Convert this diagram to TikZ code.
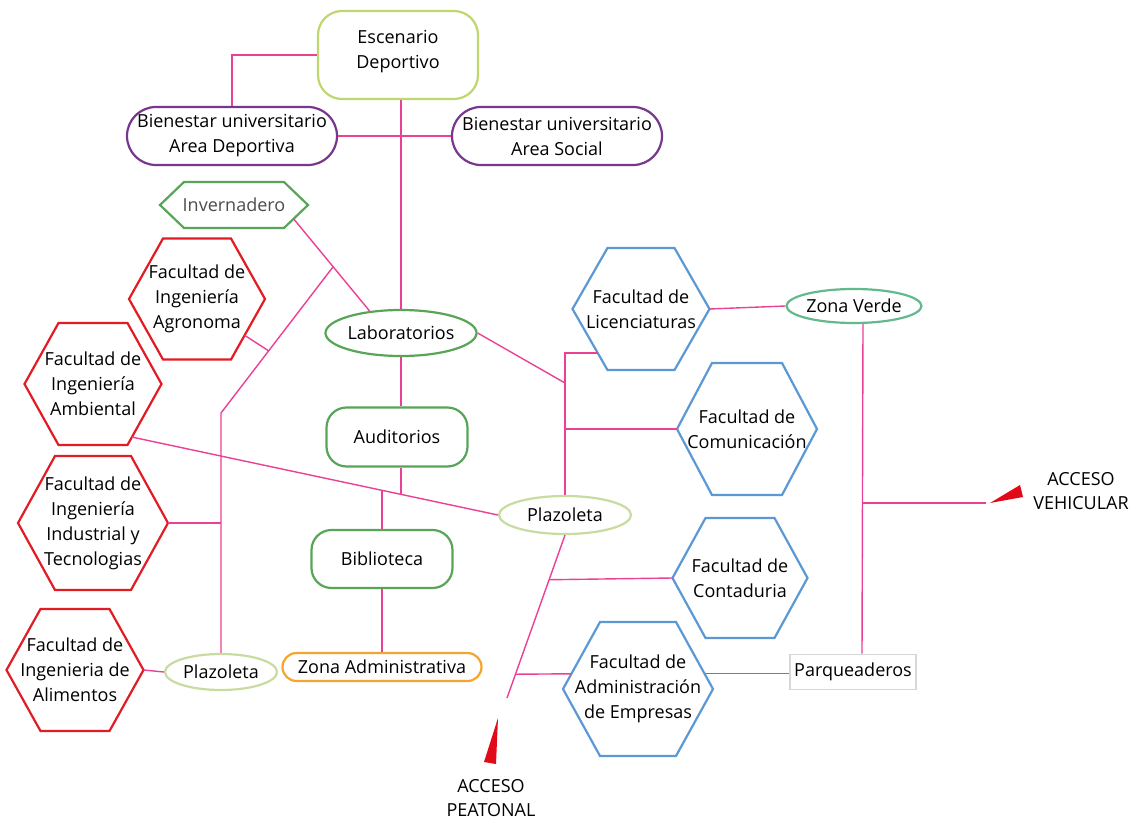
\documentclass[tikz,border=0pt]{standalone}
\usepackage{fontspec}
\setmainfont{Open Sans}
\usetikzlibrary{shapes.geometric,calc}
\definecolor{escC}{RGB}{190,215,110}
\definecolor{purp}{RGB}{118,55,140}
\definecolor{grn}{RGB}{88,165,88}
\definecolor{redh}{RGB}{226,28,36}
\definecolor{blu}{RGB}{92,152,212}
\definecolor{plz}{RGB}{200,220,160}
\definecolor{zvc}{RGB}{100,185,140}
\definecolor{org}{RGB}{245,165,45}
\definecolor{grayb}{RGB}{215,215,215}
\definecolor{lnk}{RGB}{236,64,148}
\definecolor{arr}{RGB}{226,10,25}
% name, x, y, w, h, slant, colour, text
\newcommand{\hexa}[8]{%
  \node[hexbox, minimum width=#4pt, minimum height=#5pt] (#1) at (#2,#3) {#8};
  \coordinate (#1-tl) at ([xshift=#6pt]#1.north west);
  \coordinate (#1-tr) at ([xshift=-#6pt]#1.north east);
  \coordinate (#1-bl) at ([xshift=#6pt]#1.south west);
  \coordinate (#1-br) at ([xshift=-#6pt]#1.south east);
  \draw[hexline, draw=#7] (#1.west) -- (#1-tl) -- (#1-tr) -- (#1.east) -- (#1-br) -- (#1-bl) -- cycle;
}
\begin{document}
\begin{tikzpicture}[x=1pt,y=-1pt,
  every node/.style={font=\fontsize{18}{25}\selectfont, align=center, text=black},
  con/.style={draw=lnk, line width=1.4pt},
  hexbox/.style={inner sep=0pt, outer sep=0pt},
  hexline/.style={line width=2.2pt, line join=miter},
  rbox/.style={draw, line width=2.2pt, inner sep=0pt},
  ebox/.style={ellipse, draw, line width=2.2pt, inner sep=0pt},
]
\useasboundingbox[fill=white] (0,0) rectangle (1140,821);

% ---- top boxes
\node[rbox, draw=escC, rounded corners=24pt, minimum width=160pt, minimum height=88pt, text depth=11pt] (esc) at (398,55) {Escenario\\Deportivo};
\node[rbox, draw=purp, rounded corners=29pt, minimum width=210pt, minimum height=58pt] (bd) at (232,136) {Bienestar universitario\\Area Deportiva};
\node[rbox, draw=purp, rounded corners=29pt, minimum width=210pt, minimum height=58pt] (bs) at (557,136) {Bienestar universitario\\Area Social};

% ---- hexagons
\hexa{inv}{234}{205}{148}{46}{24}{grn}{\textcolor{black!70}{Invernadero}}
\hexa{ag}{197}{299}{136}{121}{34}{redh}{Facultad de\\Ingeniería\\Agronoma}
\hexa{am}{93}{384}{137}{122}{34}{redh}{Facultad de\\Ingeniería\\Ambiental}
\hexa{ind}{93}{523}{150}{134}{37}{redh}{Facultad de\\Ingeniería\\Industrial y\\Tecnologias}
\hexa{ali}{75}{670}{137}{122}{34}{redh}{Facultad de\\Ingenieria de\\Alimentos}
\hexa{lic}{641}{309}{137}{122}{35}{blu}{Facultad de\\Licenciaturas}
\hexa{com}{747}{429}{140}{132}{35}{blu}{Facultad de\\Comunicación}
\hexa{con}{740}{578}{135}{120}{33}{blu}{Facultad de\\Contaduria}
\hexa{adm}{638}{689}{150}{134}{37}{blu}{Facultad de\\Administración\\de Empresas}

% ---- ellipses and boxes
\node[ebox, draw=plz, minimum width=112pt, minimum height=36pt] (plazL) at (221,672) {Plazoleta};
\node[ebox, draw=grn, minimum width=144pt, minimum height=46pt] (lab) at (401,333) {Laboratorios};
\node[ebox, draw=plz, minimum width=132pt, minimum height=38pt] (plazC) at (565,515) {Plazoleta};
\node[ebox, draw=zvc, minimum width=134pt, minimum height=34pt] (zv) at (854,306) {Zona Verde};
\node[rbox, draw=grn, rounded corners=20pt, minimum width=141pt, minimum height=59pt] (aud) at (397,437) {Auditorios};
\node[rbox, draw=grn, rounded corners=20pt, minimum width=141pt, minimum height=58pt] (bib) at (382,559) {Biblioteca};
\node[rbox, draw=org, rounded corners=14pt, minimum width=199pt, minimum height=28pt] (za) at (382,667) {Zona Administrativa};
\node[draw=grayb, line width=1.8pt, inner sep=0pt, minimum width=126pt, minimum height=35pt] (park) at (853,672) {Parqueaderos};

% ---- access labels and arrows
\node[font=\fontsize{18}{24}\selectfont] (acv) at (1081,491) {ACCESO\\VEHICULAR};
\node[font=\fontsize{18}{24}\selectfont] (acp) at (491,798) {ACCESO\\PEATONAL};
\fill[arr] (990,503) -- (1020,485) -- (1023,497) -- cycle;
\fill[arr] (498,718) -- (484,762) -- (496,764) -- cycle;
\coordinate (vtip) at (986,503);
\coordinate (pend) at (507,698);

% ---- connectors
\draw[con] (esc.west) -| (bd.north);
\draw[con] (bd.east) -- (bs.west);
\draw[con] (esc.south -| lab.north) -- (lab.north);

\coordinate (invSE) at ($(inv.east)!0.6!(inv-br)$);
\draw[con] (invSE) -- (lab.145);
\coordinate (J1) at ($(invSE)!0.52!(lab.145)$);
\coordinate (bendL) at (221,413);
\draw[con] (J1) -- (bendL) -- (plazL.north);
\coordinate (agSE) at ($(ag.east)!0.6!(ag-br)$);
\draw[con] (agSE) -- ($(J1)!0.575!(bendL)$);
\draw[con] (ind.east) -- (ind.east -| bendL);
\draw[con] (ali.east) -- (plazL.west);

\coordinate (amSE) at ($(am.east)!0.87!(am-br)$);
\draw[con] (amSE) -- (plazC.west);
\coordinate (pa) at ($(amSE)!0.734!(plazC.west)$);
\coordinate (pb) at ($(amSE)!0.682!(plazC.west)$);
\draw[con] (lab.south) -- (lab.south |- aud.north);
\draw[con] ([xshift=4pt]aud.south) -- ([xshift=4pt]aud.south |- pa);
\draw[con] (bib.north) -- (bib.north |- pb);
\draw[con] (bib.south) -- (za.north);

\coordinate (licSW) at ($(lic.west)!0.72!(lic-bl)$);
\draw[con] (licSW) -- (licSW -| plazC.north) -- (plazC.north);
\coordinate (J2) at (565,383);
\draw[con] (lab.east) -- (J2);
\draw[con] (com.west) -- (com.west -| plazC.north);
\draw[con] (lic.east) -- (zv.west);

\draw[con] ([xshift=9pt]zv.south) -- ([xshift=9pt]park.north);
\coordinate (vj) at ([xshift=9pt]zv.south |- vtip);
\draw[con] (vj) -- (vtip);

\draw[con] (plazC.south) -- (pend);
\coordinate (p3) at ($(plazC.south)!0.274!(pend)$);
\draw[con] (p3) -- (con.west);
\coordinate (p4) at ($(plazC.south)!0.854!(pend)$);
\coordinate (admNW) at ($(adm.west)!0.227!(adm-tl)$);
\draw[con] (p4) -- (admNW);
\coordinate (admNE) at ($(adm.east)!0.227!(adm-tr)$);
\draw[con] (admNE) -- (admNE -| park.west);
\end{tikzpicture}
\end{document}
